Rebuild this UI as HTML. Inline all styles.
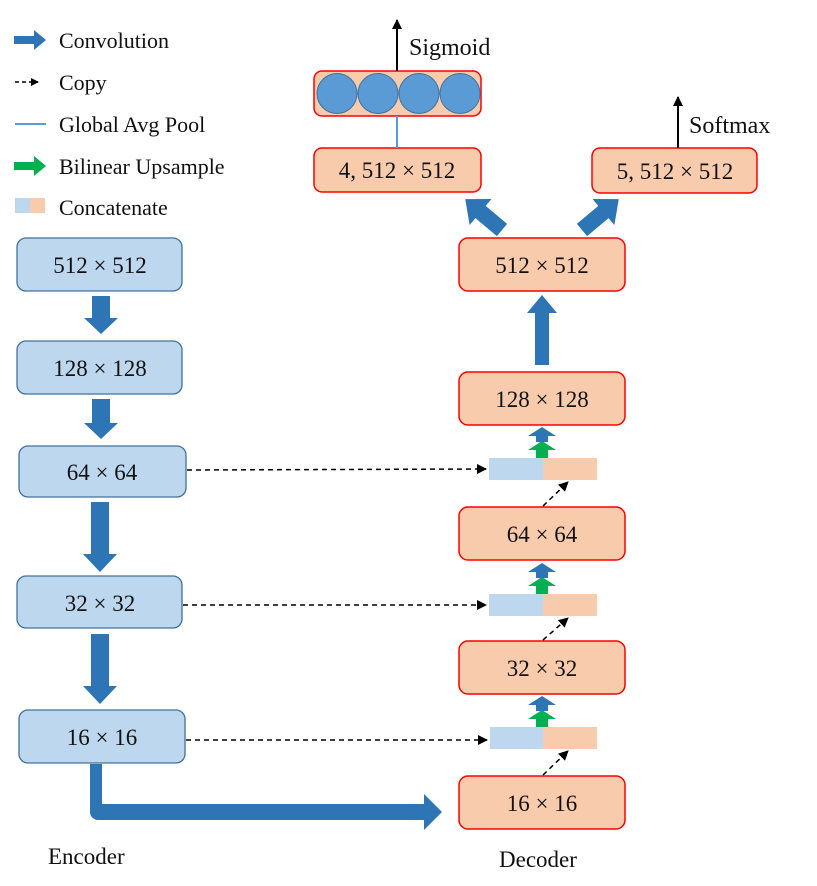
<!DOCTYPE html>
<html><head><style>body{margin:0;background:#fff}svg{display:block}text{font-family:"Liberation Serif",serif;fill:#111}</style></head><body>
<svg width="817" height="886" viewBox="0 0 817 886" xmlns="http://www.w3.org/2000/svg">
<defs>
<marker id="ah" markerWidth="8" markerHeight="8" refX="7" refY="4" orient="auto" markerUnits="userSpaceOnUse"><path d="M0,0 L8,4 L0,8 z" fill="#000"/></marker>
<marker id="ah2" markerWidth="10" markerHeight="10" refX="9" refY="5" orient="auto" markerUnits="userSpaceOnUse"><path d="M0,0 L10,5 L0,10 z" fill="#000"/></marker>
</defs>
<!-- legend -->
<path d="M14,36 h20 v-6 l12,10 l-12,10 v-6 h-20z" fill="#2e75b6"/>
<text x="59" y="48" font-size="22">Convolution</text>
<line x1="15" y1="82" x2="38" y2="82" stroke="#000" stroke-width="1.5" stroke-dasharray="4,3" marker-end="url(#ah)"/>
<text x="59" y="90" font-size="22">Copy</text>
<line x1="15" y1="124" x2="46" y2="124" stroke="#5b9bd5" stroke-width="2"/>
<text x="59" y="132" font-size="22">Global Avg Pool</text>
<path d="M14,162 h20 v-6 l12,10 l-12,10 v-6 h-20z" fill="#00b050"/>
<text x="59" y="174" font-size="22">Bilinear Upsample</text>
<rect x="15" y="198" width="15" height="15" fill="#bdd7ee"/><rect x="30" y="198" width="15" height="15" fill="#f8cbad"/>
<text x="59" y="215" font-size="22">Concatenate</text>
<!-- encoder boxes -->
<g fill="#bdd7ee" stroke="#41719c" stroke-width="1.3">
<rect x="17" y="238" width="165" height="53" rx="9"/>
<rect x="17" y="341" width="165" height="53" rx="9"/>
<rect x="19" y="446" width="167" height="51" rx="9"/>
<rect x="17" y="576" width="165" height="52" rx="9"/>
<rect x="19" y="710" width="166" height="53" rx="9"/>
</g>
<g font-size="23" text-anchor="middle">
<text x="100" y="273">512 × 512</text>
<text x="100" y="376">128 × 128</text>
<text x="102" y="480">64 × 64</text>
<text x="100" y="611">32 × 32</text>
<text x="102" y="745">16 × 16</text>
</g>
<!-- encoder arrows -->
<g fill="#2e75b6">
<path d="M92,296 h18 v22 h8 l-17,16 l-17,-16 h8z"/>
<path d="M92,399 h18 v24 h8 l-17,16 l-17,-16 h8z"/>
<path d="M91,502 h18 v52 h8 l-17,18 l-17,-18 h8z"/>
<path d="M91,634 h18 v52 h8 l-17,18 l-17,-18 h8z"/>
<path d="M90,764 h12 v40 h322 v-10 l18,18 l-18,18 v-10 h-326 a8,8 0 0 1 -8,-8z"/>
</g>
<!-- decoder boxes -->
<g fill="#f8cbad" stroke="#ff0000" stroke-width="1.5">
<rect x="459" y="776" width="166" height="53" rx="9"/>
<rect x="459" y="641" width="166" height="53" rx="9"/>
<rect x="459" y="507" width="166" height="53" rx="9"/>
<rect x="459" y="372" width="166" height="53" rx="9"/>
<rect x="459" y="238" width="166" height="53" rx="9"/>
<rect x="314" y="148" width="167" height="44" rx="8"/>
<rect x="592" y="148" width="165" height="45" rx="8"/>
<rect x="314" y="71" width="167" height="45" rx="8"/>
</g>
<g fill="#5b9bd5" stroke="#41719c" stroke-width="1">
<circle cx="337" cy="93.5" r="20"/><circle cx="378" cy="93.5" r="20"/><circle cx="419" cy="93.5" r="20"/><circle cx="460" cy="93.5" r="20"/>
</g>
<g font-size="23" text-anchor="middle">
<text x="542" y="811">16 × 16</text>
<text x="542" y="676">32 × 32</text>
<text x="542" y="542">64 × 64</text>
<text x="542" y="407">128 × 128</text>
<text x="542" y="273">512 × 512</text>
<text x="397" y="178">4, 512 × 512</text>
<text x="675" y="179">5, 512 × 512</text>
</g>
<line x1="397" y1="116" x2="397" y2="148" stroke="#5b9bd5" stroke-width="2"/>
<line x1="397" y1="71" x2="397" y2="20" stroke="#000" stroke-width="2" marker-end="url(#ah2)"/>
<text x="409" y="55" font-size="24">Sigmoid</text>
<line x1="678" y1="148" x2="678" y2="97" stroke="#000" stroke-width="2" marker-end="url(#ah2)"/>
<text x="689" y="133" font-size="24">Softmax</text>
<!-- big decoder arrows -->
<g fill="#2e75b6">
<path d="M535,365 v-52 h-8 l15,-18 l15,18 h-8 v52z"/>
<g transform="translate(502,230) rotate(-140)"><path d="M0,-8 h28 v-9 l20,17 l-20,17 v-9 h-28z"/></g>
<g transform="translate(582,230) rotate(-40)"><path d="M0,-8 h28 v-9 l20,17 l-20,17 v-9 h-28z"/></g>
</g>
<!-- concat bars -->
<g>
<rect x="489" y="458" width="54" height="22" fill="#bdd7ee"/><rect x="543" y="458" width="54" height="22" fill="#f8cbad"/>
<rect x="489" y="594" width="54" height="22" fill="#bdd7ee"/><rect x="543" y="594" width="54" height="22" fill="#f8cbad"/>
<rect x="490" y="727" width="53" height="22" fill="#bdd7ee"/><rect x="543" y="727" width="54" height="22" fill="#f8cbad"/>
</g>
<!-- small up arrows -->
<g>
<path d="M536,458 v-8 h-8 l14,-9 l14,9 h-8 v8z" fill="#00b050"/>
<path d="M536,442 v-6 h-8 l14,-9 l14,9 h-8 v6z" fill="#2e75b6"/>
<path d="M536,594 v-8 h-8 l14,-9 l14,9 h-8 v8z" fill="#00b050"/>
<path d="M536,578 v-6 h-8 l14,-9 l14,9 h-8 v6z" fill="#2e75b6"/>
<path d="M536,727 v-8 h-8 l14,-9 l14,9 h-8 v8z" fill="#00b050"/>
<path d="M536,711 v-6 h-8 l14,-9 l14,9 h-8 v6z" fill="#2e75b6"/>
</g>
<!-- dashed copies -->
<g stroke="#000" stroke-width="1.5" stroke-dasharray="5,4" fill="none">
<line x1="187" y1="470" x2="486" y2="469" marker-end="url(#ah2)"/>
<line x1="183" y1="605" x2="486" y2="605" marker-end="url(#ah2)"/>
<line x1="186" y1="740" x2="487" y2="740" marker-end="url(#ah2)"/>
<line x1="543" y1="506" x2="568" y2="482" marker-end="url(#ah2)"/>
<line x1="543" y1="640" x2="568" y2="618" marker-end="url(#ah2)"/>
<line x1="543" y1="775" x2="568" y2="751" marker-end="url(#ah2)"/>
</g>
<text x="48" y="864" font-size="23">Encoder</text>
<text x="499" y="867" font-size="23">Decoder</text>
</svg>
</body></html>
